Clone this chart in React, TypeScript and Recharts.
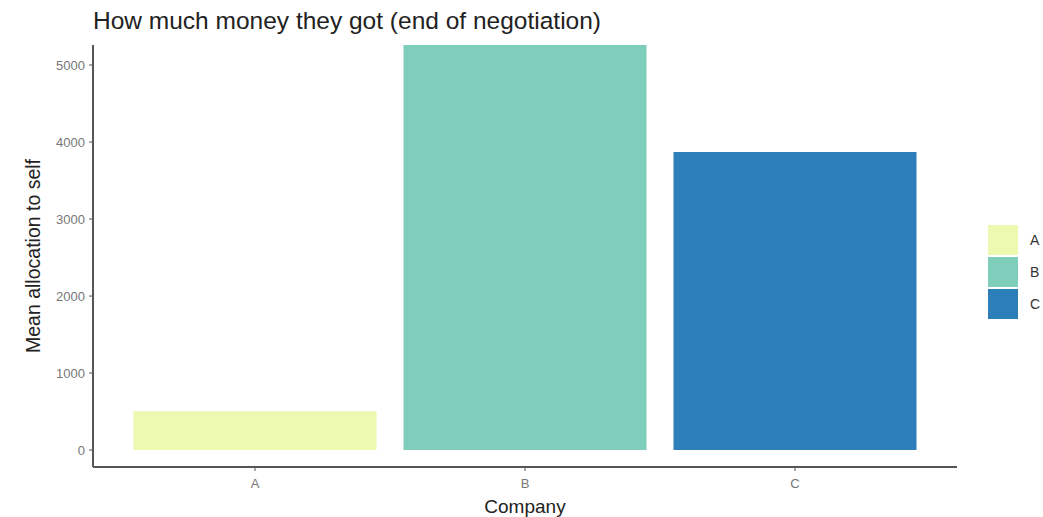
import React from "react";
import { BarChart, Bar, XAxis, YAxis, Cell, Label } from "recharts";

const companies = ["A", "B", "C"];
const meanAllocation = [505, 5260, 3870];
const fills = ["#edf8b1", "#7fcdbb", "#2c7fb8"];
const yTicks = [0, 1000, 2000, 3000, 4000, 5000];

const data = companies.map((c, i) => ({ company: c, value: meanAllocation[i] }));

const FONT = "'Liberation Sans', Arial, Helvetica, sans-serif";

export default function App() {
  return (
    <div style={{ position: "absolute", left: 0, top: 0, width: 1043, height: 517, background: "#fff", fontFamily: FONT }}>
      <div style={{ position: "absolute", left: 93, top: 7, fontSize: 24.5, color: "#222", whiteSpace: "nowrap" }}>
        How much money they got (end of negotiation)
      </div>
      <BarChart
        width={1043}
        height={517}
        data={data}
        margin={{ top: 45, right: 86, left: 0, bottom: 0 }}
        barCategoryGap="5%"
      >
        <XAxis
          dataKey="company"
          height={50}
          padding={{ left: 27, right: 27 }}
          axisLine={{ stroke: "#555", strokeWidth: 2 }}
          tickLine={{ stroke: "#555" }}
          tickSize={4}
          tickMargin={8}
          tick={{ fill: "#777", fontSize: 13, fontFamily: FONT }}
        >
          <Label value="Company" position="insideBottom" offset={4} style={{ fontSize: 19, fill: "#222", fontFamily: FONT }} />
        </XAxis>
        <YAxis
          width={93}
          domain={[-220, 5260]}
          ticks={yTicks}
          allowDataOverflow
          axisLine={{ stroke: "#555", strokeWidth: 2 }}
          tickLine={{ stroke: "#555" }}
          tickSize={4}
          tickMargin={4}
          tick={{ fill: "#777", fontSize: 13, fontFamily: FONT }}
        >
          <Label value="Mean allocation to self" angle={-90} position="insideLeft" offset={33} style={{ fontSize: 19.5, fill: "#222", fontFamily: FONT, textAnchor: "middle" }} />
        </YAxis>
        <Bar dataKey="value" isAnimationActive={false}>
          {data.map((d, i) => (
            <Cell key={d.company} fill={fills[i]} />
          ))}
        </Bar>
      </BarChart>
      <div style={{ position: "absolute", left: 987, top: 224 }}>
        {companies.map((c, i) => (
          <div key={c} style={{ display: "flex", alignItems: "center", height: 32 }}>
            <div style={{ width: 30, height: 30, background: fills[i], border: "1px solid #fff" }} />
            <span style={{ marginLeft: 11, fontSize: 14, color: "#333" }}>{c}</span>
          </div>
        ))}
      </div>
    </div>
  );
}
